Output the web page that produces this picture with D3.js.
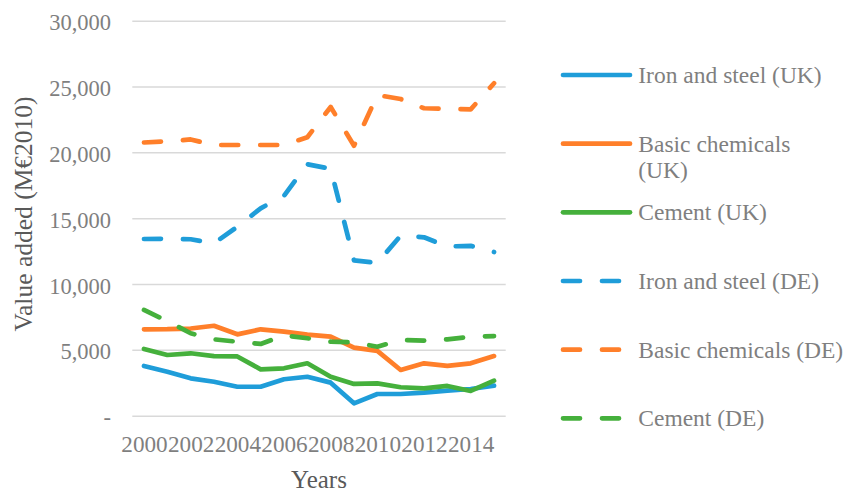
<!DOCTYPE html>
<html>
<head>
<meta charset="utf-8">
<script src="https://cdn.jsdelivr.net/npm/d3@7/dist/d3.min.js"></script>
<style>
  html, body { margin: 0; padding: 0; background: #ffffff; }
  svg { display: block; }
  text { font-family: "Liberation Serif", "Times New Roman", serif; }
</style>
</head>
<body>
<svg id="chart" width="846" height="493"></svg>
<script>
// ---- data ----
const years = ["2000","2001","2002","2003","2004","2005","2006","2007","2008","2009","2010","2011","2012","2013","2014","2015"];
const xTickLabels = ["2000","2002","2004","2006","2008","2010","2012","2014"];
const yTickValues = [0, 5000, 10000, 15000, 20000, 25000, 30000];

const ironSteelUK      = [3775, 3340, 2840, 2580, 2200, 2200, 2770, 2960, 2510, 940, 1650, 1650, 1750, 1900, 2030, 2280];
const basicChemUK      = [6560, 6570, 6620, 6830, 6180, 6560, 6380, 6160, 6000, 5170, 4920, 3470, 3980, 3780, 3980, 4530];
const cementUK         = [5070, 4610, 4740, 4530, 4500, 3520, 3600, 3980, 2960, 2410, 2460, 2160, 2080, 2260, 1880, 2660];
const ironSteelDE      = [13420, 13440, 13400, 13100, 14350, 15750, 16700, 19100, 18750, 11800, 11600, 13680, 13550, 12850, 12900, 12430];
const basicChemDE      = [20750, 20850, 20980, 20560, 20560, 20560, 20560, 21150, 23450, 20500, 24350, 24050, 23350, 23300, 23270, 25250];
const cementDE         = [8030, 7190, 6260, 5800, 5620, 5450, 6100, 5880, 5620, 5570, 5240, 5750, 5700, 5800, 6000, 6050];

const seriesNames = ["Iron and steel (UK)", "Basic chemicals (UK)", "Cement (UK)",
                     "Iron and steel (DE)", "Basic chemicals (DE)", "Cement (DE)"];
const seriesValues = [ironSteelUK, basicChemUK, cementUK, ironSteelDE, basicChemDE, cementDE];
const seriesColors = ["#1f9dd9", "#ff7f2a", "#45b03c", "#1f9dd9", "#ff7f2a", "#45b03c"];
const seriesDashed = [false, false, false, true, true, true];

// ---- layout ----
const svg = d3.select("#chart");
const plot = { left: 132.3, right: 505.7, top: 20.7, bottom: 415.7 };
const tickColor = "#7f7f7f";
const titleColor = "#595959";
const lineW = 4.7;
const dash = "17 22";

const x = d3.scalePoint().domain(years).range([plot.left, plot.right]).padding(0.5);
const y = d3.scaleLinear().domain([0, 30000]).range([plot.bottom, plot.top]);

// gridlines
const grid = svg.append("g")
  .attr("transform", `translate(${plot.left},0)`)
  .call(d3.axisLeft(y).tickValues(yTickValues).tickSize(-(plot.right - plot.left)).tickFormat(""));
grid.select(".domain").remove();
grid.selectAll(".tick line").attr("stroke", "#d9d9d9").attr("stroke-width", 1.5);

// y tick labels
const fmt = d3.format(",");
const yAxis = svg.append("g")
  .attr("transform", "translate(111,0)")
  .call(d3.axisLeft(y).tickValues(yTickValues).tickSize(0).tickPadding(0)
        .tickFormat(d => d === 0 ? "-" : fmt(d)));
yAxis.select(".domain").remove();
yAxis.selectAll(".tick text")
  .attr("font-family", "Liberation Serif")
  .attr("font-size", 22.5)
  .attr("fill", tickColor)
  .attr("dy", 9)
  .attr("x", 0)
  .attr("text-anchor", "end");

// x tick labels
const xAxis = svg.append("g")
  .attr("transform", `translate(0,${plot.bottom})`)
  .call(d3.axisBottom(x).tickValues(xTickLabels).tickSize(0).tickPadding(0));
xAxis.select(".domain").remove();
xAxis.selectAll(".tick text")
  .attr("font-family", "Liberation Serif")
  .attr("font-size", 23.2)
  .attr("fill", tickColor)
  .attr("y", 36.5)
  .attr("dy", 0);

// axis titles
svg.append("text")
  .attr("x", (plot.left + plot.right) / 2)
  .attr("y", 487.5)
  .attr("text-anchor", "middle")
  .attr("font-size", 25)
  .attr("fill", titleColor)
  .text("Years");

svg.append("text")
  .attr("transform", "translate(32,214) rotate(-90)")
  .attr("text-anchor", "middle")
  .attr("font-size", 25.5)
  .attr("fill", titleColor)
  .text("Value added (M€2010)");

// lines
const line = d3.line().x((d, i) => x(years[i])).y(d => y(d));
seriesValues.forEach((vals, k) => {
  svg.append("path")
    .datum(vals)
    .attr("d", line)
    .attr("fill", "none")
    .attr("stroke", seriesColors[k])
    .attr("stroke-width", lineW)
    .attr("stroke-linecap", "round")
    .attr("stroke-linejoin", "round")
    .attr("stroke-dasharray", seriesDashed[k] ? dash : null);
});

// legend
const legend = svg.append("g");
const legY0 = 75, legStep = 68.67;
const legX1 = 563, legX2 = 630, legTextX = 638.3, maxTextW = 206;
seriesNames.forEach((name, k) => {
  const yy = legY0 + k * legStep;
  legend.append("line")
    .attr("x1", legX1).attr("x2", legX2)
    .attr("y1", yy).attr("y2", yy)
    .attr("stroke", seriesColors[k])
    .attr("stroke-width", lineW)
    .attr("stroke-linecap", "round")
    .attr("stroke-dasharray", seriesDashed[k] ? dash : null);
  const t = legend.append("text")
    .attr("x", legTextX)
    .attr("y", yy + 8)
    .attr("font-size", 23.5)
    .attr("fill", tickColor);
  // greedy word-wrap to the available width
  const words = name.split(" ");
  let lineWords = [];
  let tspan = t.append("tspan").attr("x", legTextX).attr("dy", 0);
  words.forEach(w => {
    lineWords.push(w);
    tspan.text(lineWords.join(" "));
    if (tspan.node().getComputedTextLength() > maxTextW && lineWords.length > 1) {
      lineWords.pop();
      tspan.text(lineWords.join(" "));
      lineWords = [w];
      tspan = t.append("tspan").attr("x", legTextX).attr("dy", 26.6).text(w);
    }
  });
});
</script>
</body>
</html>
